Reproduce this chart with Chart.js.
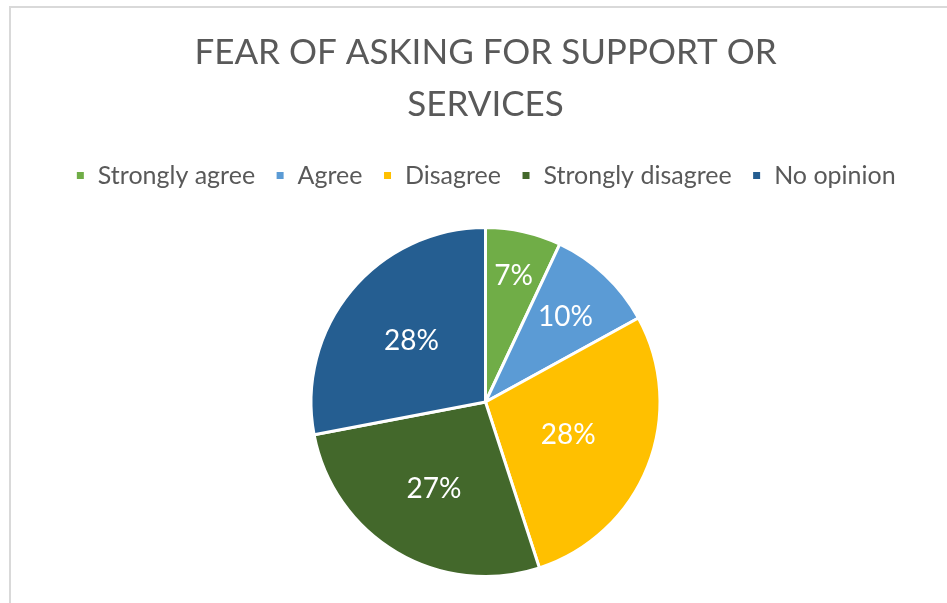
<!DOCTYPE html>
<html>
<head>
<meta charset="utf-8">
<script src="https://cdn.jsdelivr.net/npm/chart.js@4.4.0/dist/chart.umd.min.js"></script>
<style>
  html, body { margin: 0; padding: 0; background: #ffffff; overflow: hidden; }
  #frame { position: absolute; left: 9px; top: 6px; width: 1000px; height: 700px; border: 2px solid #d9d9d9; box-sizing: border-box; }
  #wrap { position: absolute; left: 0; top: 0; width: 947px; height: 603px; }
</style>
</head>
<body>
<div id="frame"></div>
<div id="wrap"><canvas id="c" width="947" height="603"></canvas></div>
<script>
const categories = ['Strongly agree', 'Agree', 'Disagree', 'Strongly disagree', 'No opinion'];
const percentValues = [7, 10, 28, 27, 28];
const titleLines = ['FEAR OF ASKING FOR SUPPORT OR', 'SERVICES'];

const sliceColors = ['#70AD47', '#5B9BD5', '#FFC000', '#43682B', '#255E91'];
const labelRadiusFraction = [0.74, 0.67, 0.51, 0.58, 0.55];
const FONT = 'Lato, "Open Sans", sans-serif';

const pieLabels = {
  id: 'pieLabels',
  afterDatasetsDraw(chart) {
    const ctx = chart.ctx;
    const meta = chart.getDatasetMeta(0);
    const data = chart.data.datasets[0].data;
    ctx.save();
    ctx.fillStyle = '#ffffff';
    ctx.font = '28px ' + FONT;
    ctx.textAlign = 'center';
    ctx.textBaseline = 'middle';
    meta.data.forEach((arc, i) => {
      const p = arc.getProps(['x', 'y', 'startAngle', 'endAngle', 'outerRadius'], true);
      const mid = (p.startAngle + p.endAngle) / 2;
      const r = p.outerRadius * labelRadiusFraction[i];
      ctx.fillText(data[i] + '%', p.x + Math.cos(mid) * r, p.y + Math.sin(mid) * r);
    });
    ctx.restore();
  }
};

const legendSpacer = {
  id: 'legendSpacer',
  beforeInit(chart) {
    const orig = chart.legend.fit;
    chart.legend.fit = function () {
      orig.bind(chart.legend)();
      this.height += 28;
    };
  }
};

new Chart(document.getElementById('c'), {
  type: 'pie',
  data: {
    labels: categories,
    datasets: [{
      data: percentValues,
      backgroundColor: sliceColors,
      borderColor: '#ffffff',
      borderWidth: 3
    }]
  },
  options: {
    responsive: false,
    animation: false,
    layout: { padding: { left: 24, right: 0, top: 0, bottom: 25 } },
    plugins: {
      title: {
        display: true,
        text: titleLines,
        color: '#595959',
        font: { family: FONT, size: 35, weight: 'normal', lineHeight: 1.486 },
        padding: { top: 27, bottom: 12 }
      },
      legend: {
        display: true,
        position: 'top',
        labels: {
          color: '#595959',
          font: { family: FONT, size: 25 },
          boxWidth: 10,
          boxHeight: 10,
          padding: 20
        }
      },
      tooltip: { enabled: false }
    }
  },
  plugins: [legendSpacer, pieLabels]
});
</script>
</body>
</html>
